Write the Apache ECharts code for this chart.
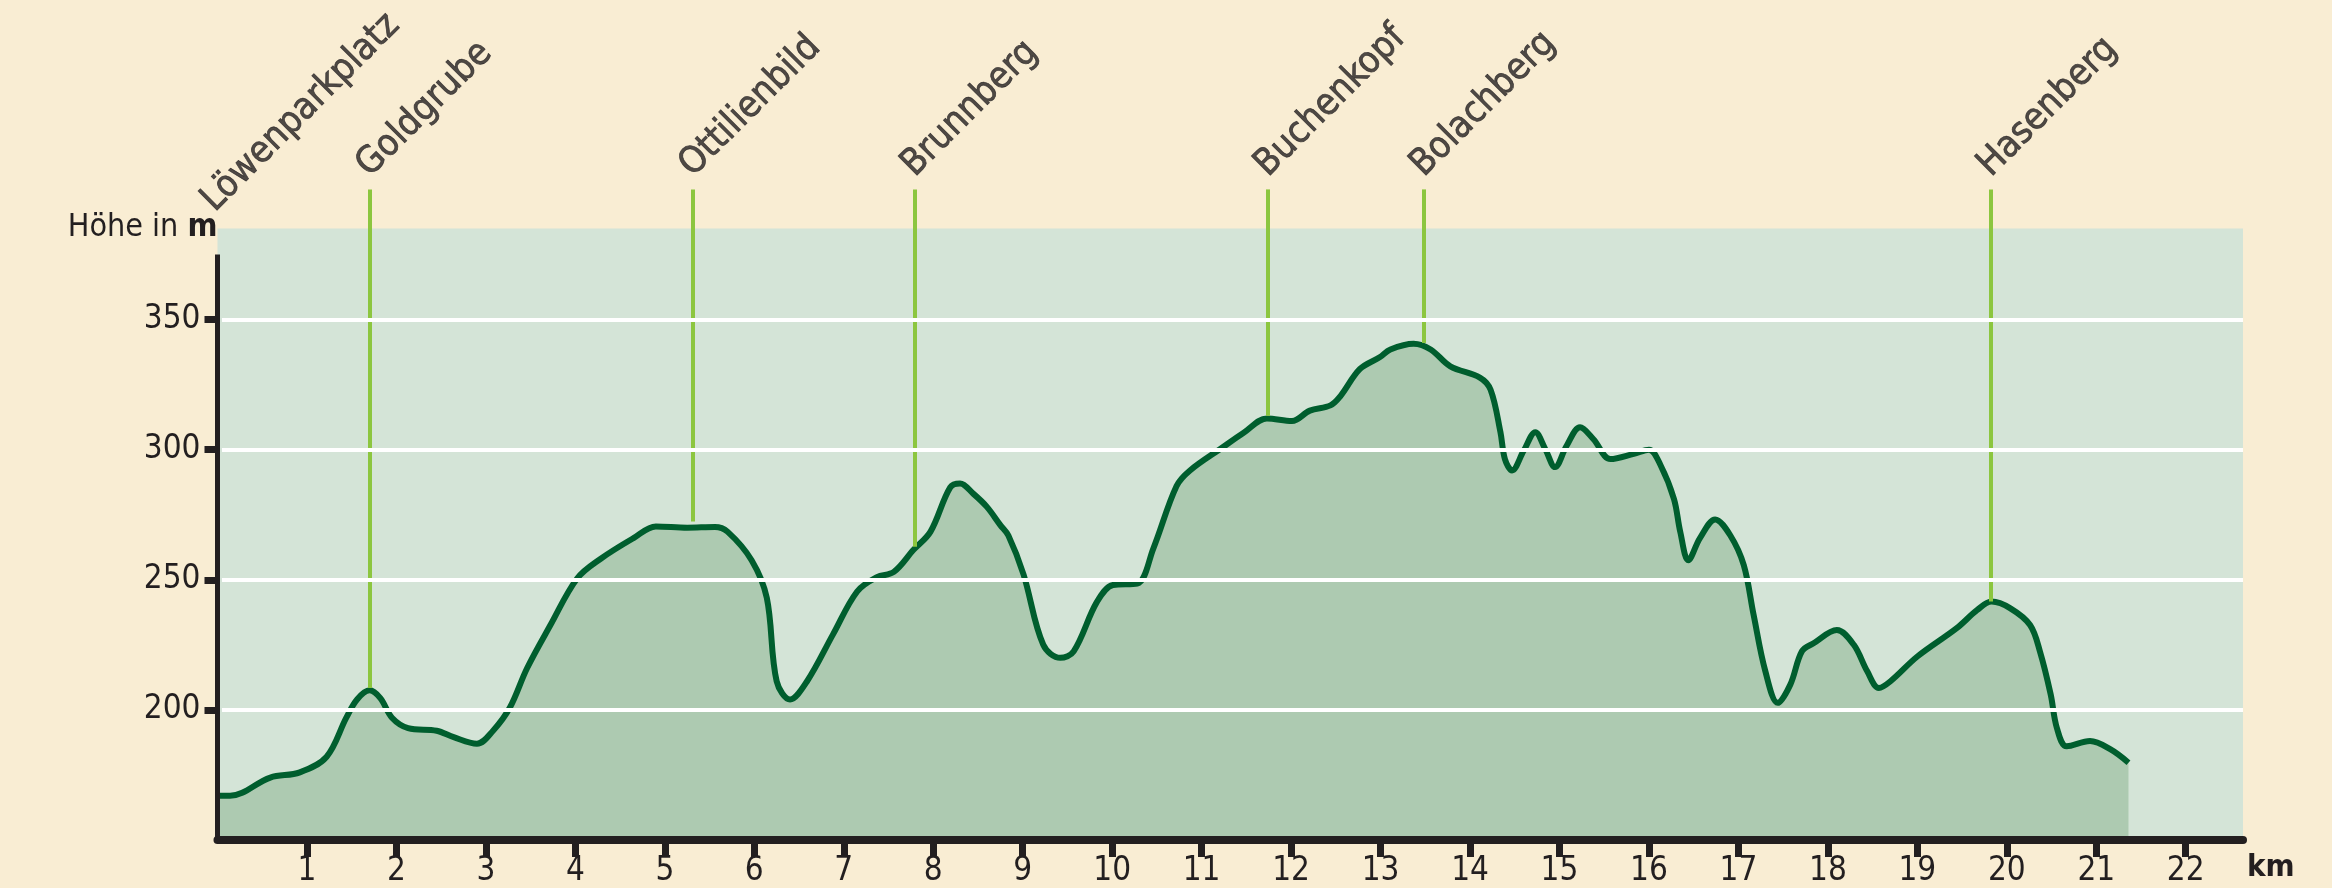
<!DOCTYPE html>
<html>
<head>
<meta charset="utf-8">
<script src="https://cdn.jsdelivr.net/npm/echarts@6/dist/echarts.min.js"></script>
<style>
  html, body { margin: 0; padding: 0; background: #f9edd3; }
  #chart { width: 2332px; height: 888px; }
</style>
</head>
<body>
<div id="chart"></div>
<script>
// ---- Data ----
const kmValues = [
  0.00, 0.14, 0.59, 0.92, 1.22, 1.44, 1.56, 1.70, 1.82, 1.95,
  2.13, 2.45, 2.64, 2.90, 3.08, 3.27, 3.46, 3.72, 4.02, 4.28,
  4.65, 4.90, 5.25, 5.56, 5.70, 5.97, 6.14, 6.25, 6.40, 6.59,
  6.88, 7.15, 7.37, 7.56, 7.78, 7.97, 8.19, 8.30, 8.45, 8.60,
  8.75, 8.84, 9.01, 9.23, 9.42, 9.57, 9.83, 10.01, 10.28,
  10.46, 10.72, 10.87, 11.24, 11.47, 11.73, 12.01, 12.21, 12.44, 12.55,
  12.77, 12.99, 13.11, 13.37, 13.56, 13.78, 14.11, 14.23, 14.34, 14.39,
  14.47, 14.60, 14.73, 14.84, 14.95, 15.08, 15.23, 15.38, 15.57, 15.83,
  16.00, 16.13, 16.28, 16.35, 16.44, 16.57, 16.74, 16.91, 17.06, 17.17,
  17.30, 17.44, 17.58, 17.71, 17.84, 18.10, 18.29, 18.44, 18.57, 18.70,
  19.00, 19.44, 19.67, 19.83, 20.04, 20.26, 20.37, 20.49, 20.56, 20.67,
  20.93, 21.16, 21.36
];
const elevation = [
  167, 167, 174, 176, 182, 197, 204, 207.5, 204.5, 197,
  193, 192, 189.5, 187, 192, 201, 216, 232.5, 250.5, 258,
  266, 270.5, 270, 270.3, 268.5, 257.5, 243, 211, 204, 211,
  229, 245.5, 251, 253, 261.5, 268.5, 285.5, 287, 283, 278,
  271, 267, 252, 225, 220, 222.5, 241.5, 248, 248.5,
  262, 286, 292, 301, 306.5, 312, 311, 315, 317, 320.5,
  331, 335.5, 338.5, 340.7, 338.5, 332, 327.7, 323, 306.7, 296.4,
  292, 299.6, 306.7, 300.3, 293.3, 301.5, 308.6, 304, 296.4, 298.4,
  300, 294, 281, 268.4, 257.5, 266, 273.2, 267, 255.6, 236.5,
  215, 202.7, 209.7, 222.5, 225.6, 230.7, 225, 214.8, 208.4, 211,
  220.5, 231.4, 238.4, 241.6, 239, 232.6, 222.5, 206, 193, 186,
  188, 184.8, 179.7
];
const placeNames = ['Löwenparkplatz', 'Goldgrube', 'Ottilienbild', 'Brunnberg', 'Buchenkopf', 'Bolachberg', 'Hasenberg'];
const placeKm = [0, 1.70, 5.31, 7.79, 11.74, 13.48, 19.82];
const placeLineEnd = [null, 208.4, 272.4, 262.7, 313, 341, 241.6];
const markerTop = 400;
const xTickLabels = [1, 2, 3, 4, 5, 6, 7, 8, 9, 10, 11, 12, 13, 14, 15, 16, 17, 18, 19, 20, 21, 22];
const yTickLabels = [200, 250, 300, 350];
const yMin = 150, yMax = 400, xMax = 22.64;
const plotTop = 385, yAxisTop = 375;

// ---- Chart ----
const FONT = "'DejaVu Sans Condensed', 'DejaVu Sans', sans-serif";
const INK = '#231f20';
const chart = echarts.init(document.getElementById('chart'));

const profileData = kmValues.map((k, i) => [k, elevation[i]]);
const markerLines = [];
placeKm.forEach((k, i) => {
  if (placeLineEnd[i] != null) markerLines.push([{ coord: [k, markerTop] }, { coord: [k, placeLineEnd[i]] }]);
});

chart.setOption({
  backgroundColor: '#f9edd3',
  animation: false,
  grid: { left: 217.5, right: 89, top: 189.4, bottom: 45.3, containLabel: false },
  xAxis: {
    type: 'value', min: 0, max: xMax, interval: 1, z: 10,
    axisLine: { show: true, lineStyle: { color: INK, width: 8 } },
    axisTick: { show: true, customValues: xTickLabels, length: 17, lineStyle: { color: INK, width: 7 } },
    axisLabel: { show: true, customValues: xTickLabels, margin: 15, fontSize: 33, color: INK, fontFamily: FONT },
    splitLine: { show: false },
    name: 'km', nameLocation: 'end', nameGap: 4,
    nameTextStyle: { fontSize: 31, fontWeight: 'bold', color: INK, fontFamily: FONT, align: 'left', verticalAlign: 'top', padding: [12, 0, 0, 0] }
  },
  yAxis: {
    type: 'value', min: yMin, max: yMax, interval: 50, z: 10,
    axisLine: { show: false },
    axisTick: { show: true, customValues: yTickLabels, length: 13, lineStyle: { color: INK, width: 7 } },
    axisLabel: { show: true, customValues: yTickLabels, margin: 17, fontSize: 33, color: INK, fontFamily: FONT },
    splitLine: { show: false },
    name: '{a|Höhe in }{b|m}', nameLocation: 'end', nameGap: -38.6,
    nameTextStyle: {
      align: 'right', verticalAlign: 'middle', color: INK, fontFamily: FONT,
      rich: {
        a: { fontSize: 32, color: INK, fontFamily: FONT },
        b: { fontSize: 32, fontWeight: 'bold', color: INK, fontFamily: FONT }
      }
    }
  },
  series: [
    {
      type: 'line', data: [], z: 1, silent: true,
      markArea: { silent: true, itemStyle: { color: '#d4e4d7' }, data: [[{ coord: [0, yMin] }, { coord: [xMax, plotTop] }]] }
    },
    {
      type: 'line', data: profileData, z: 2, smooth: 0.35, symbol: 'none', silent: true,
      lineStyle: { color: '#005e2e', width: 6 },
      areaStyle: { color: '#adcab1', origin: 'start', opacity: 1 }
    },
    {
      type: 'line', data: [], z: 3, silent: true,
      markLine: { silent: true, symbol: ['none', 'none'], label: { show: false },
        lineStyle: { color: '#8cc63f', width: 4, type: 'solid' }, data: markerLines }
    },
    {
      type: 'line', data: [], z: 4, silent: true,
      markLine: { silent: true, symbol: ['none', 'none'], label: { show: false },
        lineStyle: { color: '#ffffff', width: 4, type: 'solid' },
        data: yTickLabels.map(v => [{ coord: [0.05, v] }, { coord: [xMax, v] }]) }
    },
    {
      type: 'line', data: [], z: 5, silent: true,
      markLine: { silent: true, symbol: ['none', 'none'], label: { show: false },
        lineStyle: { color: INK, width: 5, type: 'solid', cap: 'butt' },
        data: [[{ coord: [0, yMin] }, { coord: [0, yAxisTop] }]] }
    },
    {
      type: 'scatter', z: 6, silent: true, clip: false, symbolSize: 1,
      itemStyle: { color: 'rgba(0,0,0,0)' },
      data: placeKm.map((k, i) => ({
        value: [k, markerTop],
        label: { position: i === 0 ? [4, 30] : [7, -5] }
      })),
      label: {
        show: true, rotate: 45, align: 'left', verticalAlign: 'bottom',
        formatter: p => placeNames[p.dataIndex],
        fontSize: 37, color: INK, fontFamily: FONT,
        textBorderColor: INK, textBorderWidth: 0.7
      }
    }
  ]
});
</script>
</body>
</html>
